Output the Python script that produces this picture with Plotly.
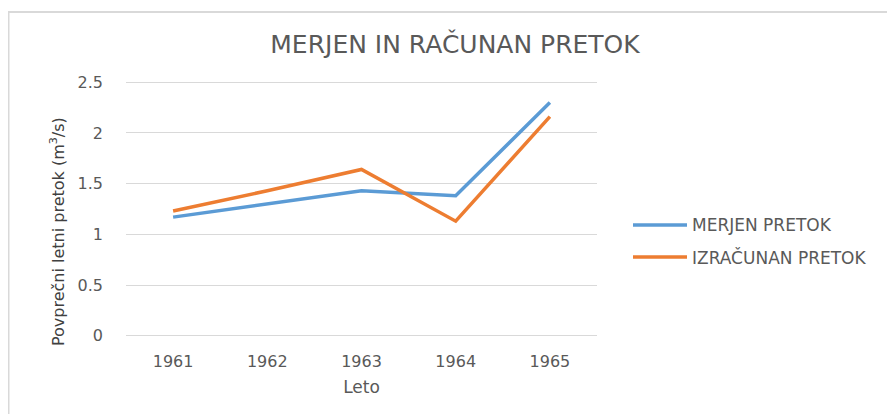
import plotly.graph_objects as go

years = ["1961", "1962", "1963", "1964", "1965"]
merjen = [1.17, 1.30, 1.43, 1.38, 2.30]
izracunan = [1.23, 1.43, 1.64, 1.13, 2.16]
series_names = ["MERJEN PRETOK", "IZRAČUNAN PRETOK"]
series_colors = ["#5B9BD5", "#ED7D31"]
y_ticks = [0, 0.5, 1, 1.5, 2, 2.5]
y_tick_labels = ["0", "0.5", "1", "1.5", "2", "2.5"]

FONT = "DejaVu Sans"
GRAY = "#595959"

# page body has an 8px margin; figure is sized so that it still fits the window
W, H = 887, 406
L, R, T, B = 118, 298, 73, 77
PW, PH = W - L - R, H - T - B
Y0, Y1 = -0.012, 2.512


def px(xp):  # page x -> paper x
    return (xp - 8 - L) / PW


def py(yp):  # page y -> paper y
    return (H - B - (yp - 8)) / PH


fig = go.Figure()
for name, vals, col in zip(series_names, [merjen, izracunan], series_colors):
    fig.add_trace(go.Scatter(x=years, y=vals, mode="lines", name=name,
                             line=dict(color=col, width=3.5), showlegend=False))

shapes = [dict(type="rect", xref="paper", yref="paper",
               x0=px(8.5), x1=1.8, y0=-0.5, y1=py(12),
               line=dict(color="#D9D9D9", width=2), fillcolor="rgba(0,0,0,0)", layer="below")]
annotations = [dict(text="Povprečni letni pretok (m<sup>3</sup>/s)", xref="paper", yref="paper",
                    x=px(57), y=py(232), xanchor="center", yanchor="middle",
                    textangle=-90, showarrow=False,
                    font=dict(family=FONT, size=16, color="#404040"))]

legend_y = [225, 257]
for name, col, ly in zip(series_names, series_colors, legend_y):
    shapes.append(dict(type="line", xref="paper", yref="paper",
                       x0=px(633), x1=px(687), y0=py(ly), y1=py(ly),
                       line=dict(color=col, width=3.5)))
    annotations.append(dict(text=name, xref="paper", yref="paper", x=px(690), y=py(ly),
                            xanchor="left", yanchor="middle", showarrow=False,
                            font=dict(family=FONT, size=17, color=GRAY)))

fig.update_layout(
    width=W, height=H,
    margin=dict(l=L, r=R, t=T, b=B, pad=0),
    paper_bgcolor="white", plot_bgcolor="white",
    font=dict(family=FONT, color=GRAY, size=16),
    title=dict(text="MERJEN IN RAČUNAN PRETOK", x=(455 - 8) / W, xanchor="center",
               y=1 - (44 - 8) / H, yanchor="middle",
               font=dict(family=FONT, size=25, color=GRAY)),
    showlegend=False,
    xaxis=dict(type="category", range=[-0.5, 4.5], showgrid=False, zeroline=False,
               showline=False, ticks="", tickfont=dict(size=16, color=GRAY),
               ticklabelstandoff=13,
               title=dict(text="Leto", font=dict(size=17, color=GRAY), standoff=11)),
    yaxis=dict(range=[Y0, Y1], tickvals=y_ticks, ticktext=y_tick_labels,
               showgrid=True, gridcolor="#D9D9D9", gridwidth=1, zeroline=False,
               showline=False, ticks="", tickfont=dict(size=16, color=GRAY),
               ticklabelstandoff=22, title=None),
    shapes=shapes,
    annotations=annotations,
)

fig.write_html("out.html")
